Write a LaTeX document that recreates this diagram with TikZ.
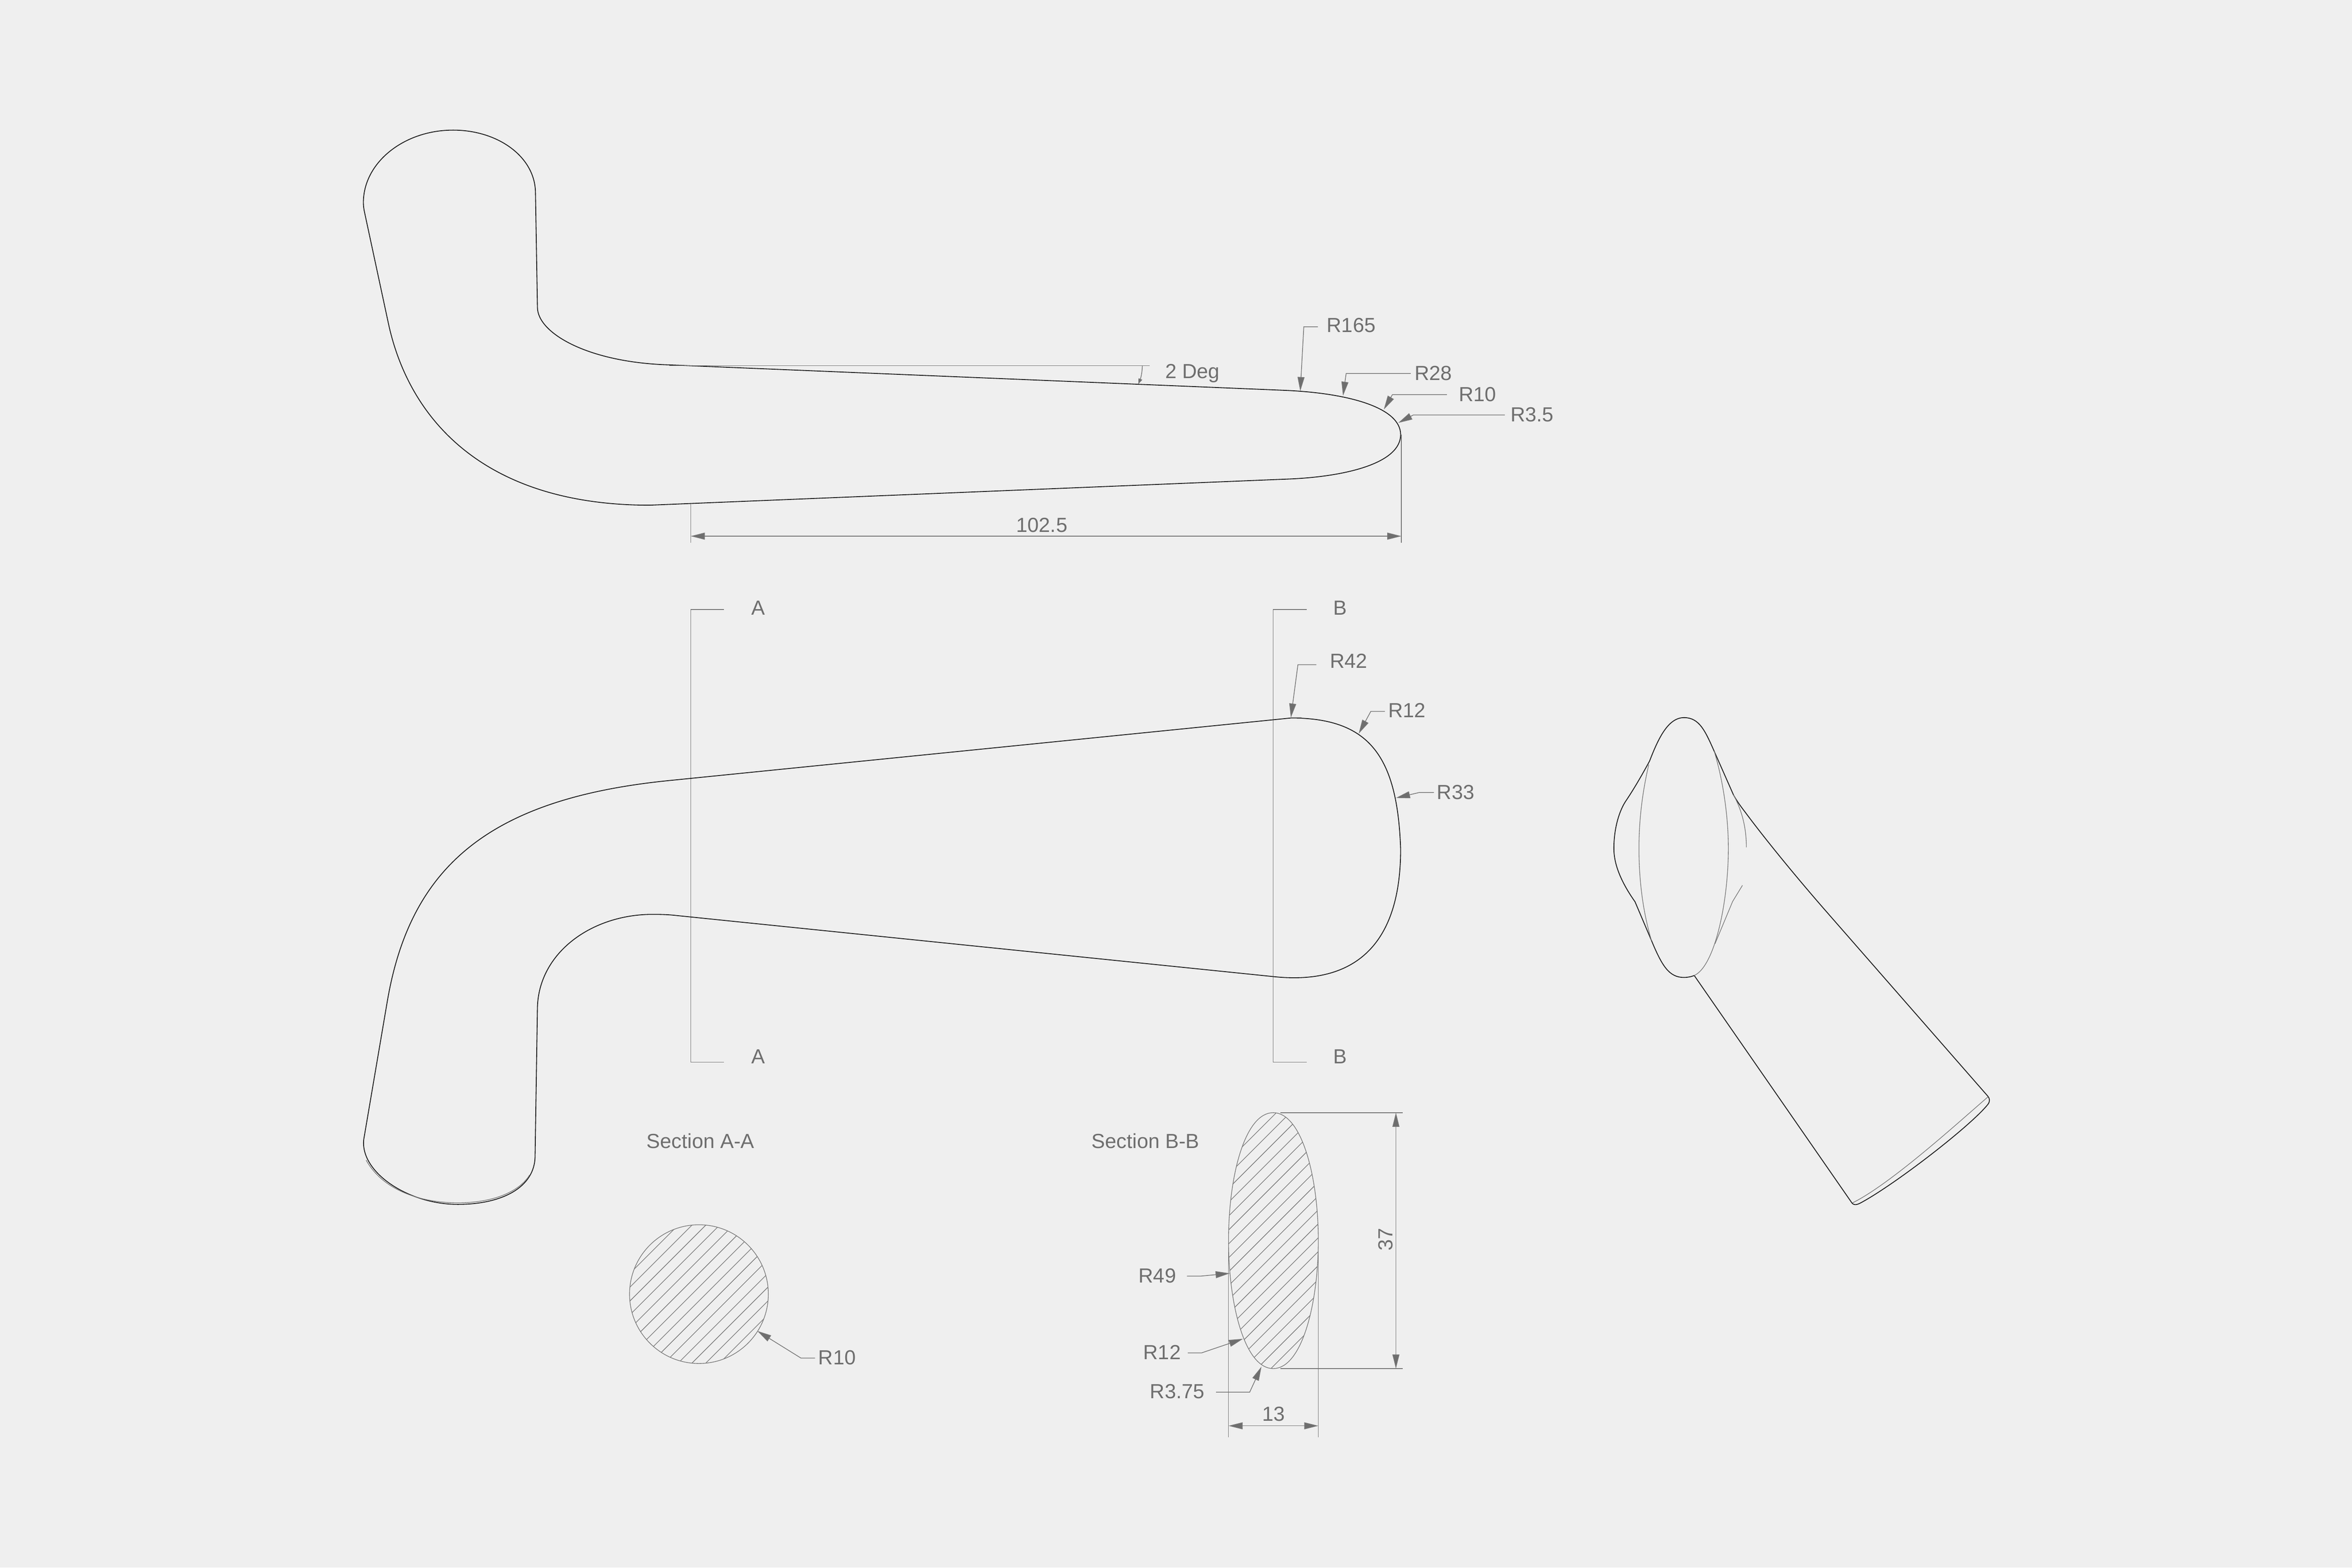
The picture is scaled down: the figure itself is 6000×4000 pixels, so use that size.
\documentclass[tikz,border=0pt]{standalone}
\usepackage{fontspec}
\usepackage{xcolor}
\usetikzlibrary{arrows.meta}
\setmainfont{Liberation Sans}
\definecolor{sheetcol}{HTML}{EFEFEF}
\definecolor{inkcol}{HTML}{6E6E6E}
\definecolor{dimcol}{HTML}{767676}
\definecolor{edgecol}{HTML}{1E1E1E}
\newcommand{\secbpath}{(3248,2839) .. controls (3320,2839) and (3363,3000) .. (3363,3165)
  .. controls (3363,3330) and (3320,3492) .. (3248,3492)
  .. controls (3176,3492) and (3134,3330) .. (3134,3165)
  .. controls (3134,3000) and (3176,2839) .. (3248,2839) -- cycle}
\tikzset{
  profile/.style={draw=edgecol, line width=0.55pt, line join=round},
  ghost/.style={draw=dimcol, line width=0.4pt},
  dimline/.style={draw=dimcol, line width=0.45pt},
  leader/.style={dimline, -{Triangle[length=9pt,width=4.4pt,fill=inkcol]}},
  dimboth/.style={dimline, {Triangle[length=9pt,width=4.4pt,fill=inkcol]}-{Triangle[length=9pt,width=4.4pt,fill=inkcol]}},
  hatchline/.style={draw=dimcol, line width=0.4pt},
  lbl/.style={text=inkcol, inner sep=0pt, anchor=base west, font=\fontsize{13}{15}\selectfont}
}
\begin{document}
\begin{tikzpicture}[x=0.25pt,y=-0.25pt]
  \fill[sheetcol] (0,0) rectangle (6000,4000);
  % side view
  \draw[profile] (927,517) .. controls (927,415) and (1030,332) .. (1156,332)
    .. controls (1270,332) and (1366,400) .. (1366,493) -- (1371,784)
    .. controls (1371,850) and (1500,925) .. (1707,931) -- (3278,996)
    .. controls (3440,1003) and (3573,1040) .. (3573,1109)
    .. controls (3573,1180) and (3440,1215) .. (3294,1222) -- (1657,1289)
    .. controls (1240,1289) and (1045,1075) .. (991,826) -- (930,542)
    .. controls (928,533) and (927,525) .. (927,517) -- cycle;
  % angle
  \draw[dimline] (1707,933) -- (2933,933);
  \draw[dimline, -{Triangle[length=3.5pt,width=2.5pt,fill=inkcol]}] (2914,933) .. controls (2914,950) and (2910,965) .. (2904,980);
  \node[lbl] (degLabel) at (2972,966) {2 Deg};
  % side view radii
  \draw[leader] (3362,834) -- (3326,834) -- (3317,998);
  \node[lbl] (rOneSixFive) at (3384,848) {R165};
  \draw[leader] (3599,953) -- (3434,953) -- (3426,1010);
  \node[lbl] (rTwoEight) at (3608,970) {R28};
  \draw[leader] (3691,1007) -- (3552,1007) -- (3530,1045);
  \node[lbl] (rTenTop) at (3721,1024) {R10};
  \draw[leader] (3839,1059) -- (3605,1059) -- (3567,1079);
  \node[lbl] (rThreeFive) at (3853,1076) {R3.5};
  % length
  \draw[dimline] (1762,1287) -- (1762,1385);
  \draw[dimline] (3575,1109) -- (3575,1385);
  \draw[dimboth] (1762,1368) -- (3575,1368);
  \node[lbl] (lenLabel) at (2592,1358) {102.5};
  % top view
  \draw[dimline] (1847,1555) -- (1762,1555) -- (1762,2710) -- (1847,2710);
  \draw[dimline] (3333,1555) -- (3248,1555) -- (3248,2710) -- (3333,2710);
  \node[lbl] (aTop) at (1916,1569) {A};
  \node[lbl] (aBottom) at (1916,2714) {A};
  \node[lbl] (bTop) at (3401,1569) {B};
  \node[lbl] (bBottom) at (3401,2714) {B};
  \draw[profile] (1703,1992) .. controls (1243,2039) and (1046,2215) .. (988,2555) -- (928,2907)
    .. controls (918,2990) and (1040,3073) .. (1168,3073)
    .. controls (1280,3073) and (1365,3030) .. (1365,2949) -- (1371,2570)
    .. controls (1375,2430) and (1510,2333) .. (1665,2333)
    .. controls (1690,2333) and (1710,2334) .. (1726,2336) -- (3250,2492)
    .. controls (3470,2515) and (3573,2395) .. (3573,2167)
    .. controls (3565,1925) and (3490,1832) .. (3293,1832) -- cycle;
  \draw[ghost] (934,2960) .. controls (975,3035) and (1070,3069) .. (1168,3069)
    .. controls (1260,3069) and (1325,3040) .. (1351,2998);
  % top view radii
  \draw[ghost] (3293,1831) -- (3320,1831);
  \draw[leader] (3358,1696) -- (3311,1696) -- (3293,1831);
  \node[lbl] (rFourTwo) at (3392,1705) {R42};
  \draw[leader] (3533,1815) -- (3497,1815) -- (3466,1872);
  \node[lbl] (rOneTwoTop) at (3541,1831) {R12};
  \draw[leader] (3658,2022) -- (3621,2022) -- (3561,2036);
  \node[lbl] (rThreeThree) at (3665,2039) {R33};
  % section A-A
  \node[lbl] (secA) at (1649,2930) {Section A-A};
  \begin{scope}
    \clip (1783,3302) circle[radius=177];
    \foreach \k in {0,...,13}{
      \pgfmathsetmacro{\hatchc}{4856+35.2*\k}
      \draw[hatchline] ({\hatchc-3100},3100) -- ({\hatchc-3500},3500);
    }
  \end{scope}
  \draw[ghost] (1783,3302) circle[radius=177];
  \draw[leader] (2079,3465) -- (2043,3465) -- (1932,3396);
  \node[lbl] (rTenSec) at (2087,3482) {R10};
  % section B-B
  \node[lbl] (secB) at (2784,2930) {Section B-B};
  \begin{scope}
    \clip \secbpath;
    \foreach \k in {0,...,18}{
      \pgfmathsetmacro{\hatchc}{6095+35.5*\k}
      \draw[hatchline] ({\hatchc-2800},2800) -- ({\hatchc-3520},3520);
    }
  \end{scope}
  \draw[ghost] \secbpath;
  \draw[dimline] (3266,2839) -- (3578,2839);
  \draw[dimline] (3266,3492) -- (3578,3492);
  \draw[dimboth] (3561,2839) -- (3561,3492);
  \node[text=inkcol, inner sep=0pt, anchor=base, rotate=90, font=\fontsize{13}{15}\selectfont] (heightLabel) at (3553,3162) {37};
  \draw[dimline] (3134,3182) -- (3134,3667);
  \draw[dimline] (3363,3182) -- (3363,3667);
  \draw[dimboth] (3134,3638) -- (3363,3638);
  \node[lbl] (widthLabel) at (3219,3626) {13};
  \draw[leader] (3028,3256) -- (3063,3256) -- (3137,3249);
  \node[lbl] (rFourNine) at (2904,3273) {R49};
  \draw[leader] (3030,3452) -- (3065,3452) -- (3171,3416);
  \node[lbl] (rOneTwoSec) at (2916,3468) {R12};
  \draw[leader] (3102,3552) -- (3188,3552) -- (3218,3487);
  \node[lbl] (rThreeSeven) at (2933,3568) {R3.75};
  % end view
  \draw[profile] (4296,1831) .. controls (4255,1831) and (4230,1885) .. (4208,1942)
    .. controls (4190,1975) and (4170,2010) .. (4150,2040)
    .. controls (4130,2068) and (4117,2115) .. (4117,2165)
    .. controls (4117,2205) and (4135,2250) .. (4171,2301) -- (4213,2400)
    .. controls (4240,2465) and (4258,2494) .. (4296,2494)
    .. controls (4305,2494) and (4315,2492) .. (4322,2489) -- (4724,3069)
    .. controls (4728,3075) and (4735,3075) .. (4745,3070)
    .. controls (4830,3025) and (5025,2875) .. (5071,2818)
    .. controls (5077,2810) and (5076,2803) .. (5071,2797) -- (4660,2327)
    .. controls (4590,2247) and (4510,2150) .. (4457,2079)
    .. controls (4445,2063) and (4433,2048) .. (4422,2028) -- (4373,1917)
    .. controls (4350,1865) and (4335,1831) .. (4296,1831) -- cycle;
  % ghost edges
  \draw[ghost] (4206,1951) .. controls (4190,2020) and (4181,2090) .. (4181,2165)
    .. controls (4181,2250) and (4192,2330) .. (4213,2400);
  \draw[ghost] (4373,1917) .. controls (4395,1990) and (4409,2080) .. (4409,2165)
    .. controls (4409,2300) and (4375,2465) .. (4322,2489);
  \draw[ghost] (4422,2028) .. controls (4445,2070) and (4455,2115) .. (4455,2162);
  \draw[ghost] (4375,2408) -- (4420,2300) -- (4445,2259);
  \draw[ghost] (5071,2799) .. controls (5000,2860) and (4825,3020) .. (4726,3069);
\end{tikzpicture}
\end{document}
